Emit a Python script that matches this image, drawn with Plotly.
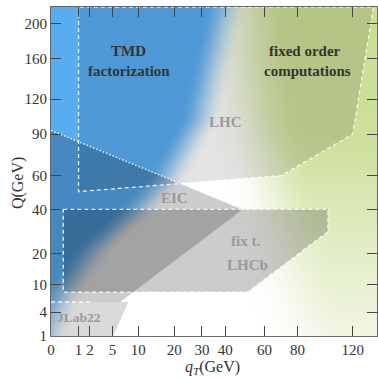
import numpy as np
import plotly.graph_objects as go
import zlib, struct, base64

# ---------------- data ----------------
x_tick_vals = [0, 1, 2, 5, 10, 20, 30, 40, 60, 80, 120]
y_tick_vals = [1, 4, 10, 20, 40, 60, 90, 120, 160, 200]
qT_range = [0, 140]
Q_range = [1, 220]

lhc_qT = [1, 1, 70, 120, 137, 1]
lhc_Q = [220, 50, 60, 90, 220, 220]

eic_qT = [0, 48.5, 6.3, 0, 0]
eic_Q = [93, 40, 5.9, 5.9, 93]

fixt_qT = [0.2, 101, 101, 51, 0.2, 0.2]
fixt_Q = [40, 40, 29, 8.1, 8.1, 40]

jlab_qT = [0, 7.9, 5.1, 0, 0]
jlab_Q = [5.9, 5.9, 1, 1, 5.9]

labels_dark = [("TMD", 8.0, 169), ("factorization", 8.0, 147),
               ("fixed order", 85, 169), ("computations", 87, 147)]
labels_gray = [("LHC", 40, 100), ("EIC", 20, 46), ("fix t.", 50, 25),
               ("LHCb", 51, 16), ("JLab22", 1.0, 3.1)]

sq = np.sqrt

# ---------------- background gradient ----------------
W_PX, H_PX = 326, 329
L_PX, T_PX = 51, 7
cx = L_PX + np.arange(W_PX) + 0.5
cy = T_PX + np.arange(H_PX) + 0.5
CX, CY = np.meshgrid(cx, cy)


def smooth(e0, e1, x):
    t = np.clip((x - e0) / (e1 - e0), 0, 1)
    return t * t * (3 - 2 * t)


xb = np.interp(CY, [0, 120, 180, 210, 250, 290, 310, 340], [228, 200, 166, 138, 94, 66, 55, 45])
ba = 1 - smooth(xb - 22, xb + 22, CX)
xg = np.interp(CY, [0, 60, 120, 200, 340], [228, 232, 240, 260, 290])
hh = np.interp(CY, [0, 140, 200, 260, 340], [1, 0.95, 0.7, 0.5, 0.25])
ga = smooth(xg - 30, xg + 60, CX) * hh

blue = np.array([88, 172, 240], float)
green = np.array([203, 222, 150], float)
img = np.ones((H_PX, W_PX, 3)) * 255.0
img = img * (1 - ga[..., None]) + green * ga[..., None]
img = img * (1 - ba[..., None]) + blue * ba[..., None]
img = np.clip(img, 0, 255).astype(np.uint8)


def png_uri(rgb):
    h, w, _ = rgb.shape
    raw = b''.join(b'\x00' + rgb[j].tobytes() for j in range(h))

    def chunk(t, d):
        return struct.pack('>I', len(d)) + t + d + struct.pack('>I', zlib.crc32(t + d) & 0xffffffff)
    png = (b'\x89PNG\r\n\x1a\n' + chunk(b'IHDR', struct.pack('>IIBBBBB', w, h, 8, 2, 0, 0, 0))
           + chunk(b'IDAT', zlib.compress(raw, 9)) + chunk(b'IEND', b''))
    return 'data:image/png;base64,' + base64.b64encode(png).decode()


fig = go.Figure()

DASH = "4px,3px"
LC = "rgba(255,255,255,0.85)"


def poly(xs, ys, fill):
    fig.add_trace(go.Scatter(x=sq(xs), y=sq(ys), mode="lines", fill="toself",
                             fillcolor=fill, line=dict(width=0), hoverinfo="skip",
                             showlegend=False))


def edge(xs, ys, dash=DASH, width=1.3):
    fig.add_trace(go.Scatter(x=sq(xs), y=sq(ys), mode="lines",
                             line=dict(color=LC, width=width, dash=dash),
                             hoverinfo="skip", showlegend=False))


poly(lhc_qT, lhc_Q, "rgba(0,0,0,0.11)")
poly(eic_qT, eic_Q, "rgba(0,0,0,0.2)")
poly(fixt_qT, fixt_Q, "rgba(0,0,0,0.2)")
poly(jlab_qT, jlab_Q, "rgba(0,0,0,0.15)")

edge(lhc_qT, lhc_Q)
edge(fixt_qT, fixt_Q)
edge(eic_qT[:2], eic_Q[:2], dash="1.5px,2px", width=1.5)
edge([eic_qT[3], 2.0], [eic_Q[3], eic_Q[3]])

FONT = "Liberation Serif"
ann = []
for t, x, y in labels_dark:
    ann.append(dict(x=sq(x), y=sq(y), text="<b>%s</b>" % t, showarrow=False,
                    font=dict(family=FONT, size=15, color="#333333"), xanchor="center", yanchor="middle"))
for t, x, y in labels_gray:
    ann.append(dict(x=sq(x), y=sq(y), text="<b>%s</b>" % t, showarrow=False,
                    font=dict(family=FONT, size=15 if t != "JLab22" else 13.5, color="#9a9a9a"),
                    xanchor="center", yanchor="middle"))
ann.append(dict(xref="paper", yref="paper", x=0.494, y=-0.097, text="<i>q</i><sub><i>T</i></sub>(GeV)",
                showarrow=False, font=dict(family=FONT, size=16, color="#333333"),
                xanchor="center", yanchor="middle"))
ann.append(dict(xref="paper", yref="paper", x=-0.101, y=0.465, text="Q(GeV)", textangle=-90,
                showarrow=False, font=dict(family=FONT, size=16, color="#333333"),
                xanchor="center", yanchor="middle"))

axis_common = dict(ticks="inside", ticklen=10, tickwidth=1, tickcolor="#444444",
                   showline=True, linecolor="#666666", linewidth=1, mirror="ticks",
                   showgrid=False, zeroline=False, automargin=False,
                   tickfont=dict(family=FONT, size=15, color="#333333"))

fig.update_layout(
    width=378, height=380,
    margin=dict(l=51, r=1, t=7, b=44),
    paper_bgcolor="white", plot_bgcolor="white",
    xaxis=dict(range=[sq(qT_range[0]), sq(qT_range[1])], tickvals=sq(x_tick_vals),
               ticktext=[str(v) for v in x_tick_vals], **axis_common),
    yaxis=dict(range=[sq(Q_range[0]), sq(Q_range[1])], tickvals=sq(y_tick_vals),
               ticktext=[str(v) for v in y_tick_vals], **axis_common),
    annotations=ann,
    images=[dict(source=png_uri(img), xref="x", yref="y", x=sq(qT_range[0]), y=sq(Q_range[1]),
                 sizex=sq(qT_range[1]) - sq(qT_range[0]), sizey=sq(Q_range[1]) - sq(Q_range[0]),
                 sizing="stretch", layer="below", xanchor="left", yanchor="top")],
)

fig.write_html("out.html", config={"displayModeBar": False},
               post_script="document.body.style.margin='0';document.body.style.overflow='hidden';")
